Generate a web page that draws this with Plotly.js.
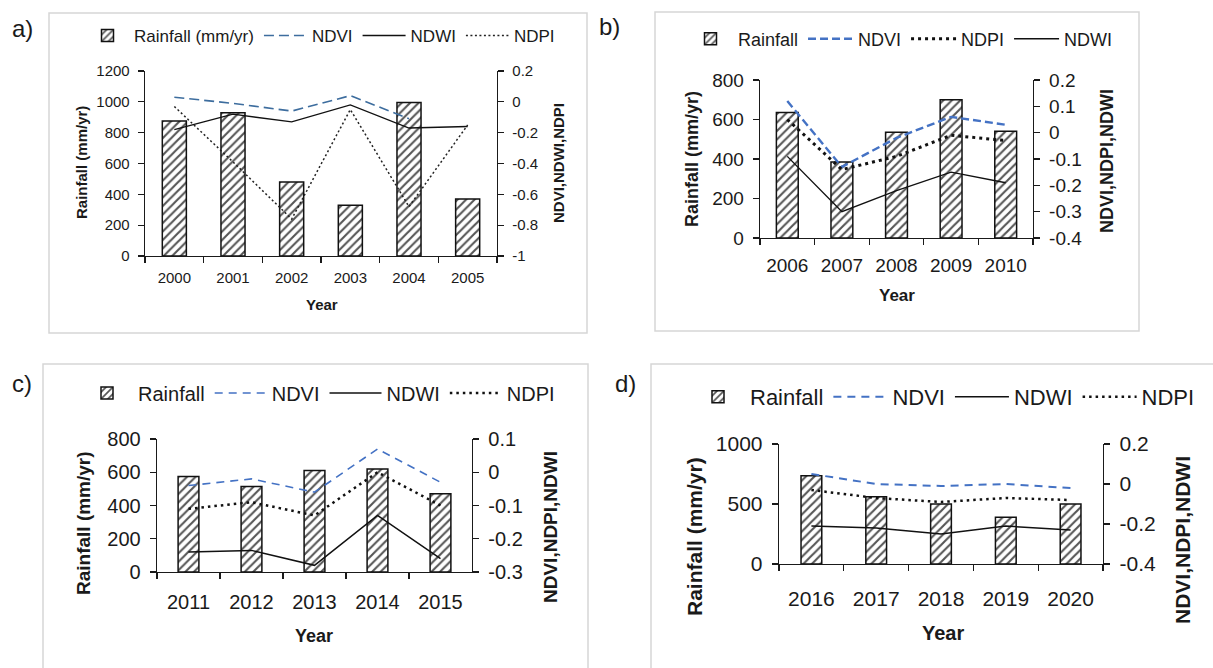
<!DOCTYPE html>
<html>
<head>
<meta charset="utf-8">
<script src="https://cdn.plot.ly/plotly-3.0.1.min.js"></script>
<style>html,body{margin:0;padding:0;background:#fff;}#chart{width:1213px;height:668px;}</style>
</head>
<body>
<div id="chart"></div>
<script>
// ---------------- data ----------------
const yearsA = ['2000','2001','2002','2003','2004','2005'];
const rainA  = [875, 930, 480, 330, 995, 370];
const ndviA  = [0.03, -0.01, -0.06, 0.04, -0.11, null];
const ndwiA  = [-0.18, -0.08, -0.13, -0.02, -0.17, -0.16];
const ndpiA  = [-0.03, -0.39, -0.76, -0.05, -0.68, -0.15];

const yearsB = ['2006','2007','2008','2009','2010'];
const rainB  = [635, 385, 535, 700, 540];
const ndviB  = [0.12, -0.13, -0.02, 0.06, 0.03];
const ndpiB  = [0.05, -0.14, -0.09, -0.01, -0.03];
const ndwiB  = [-0.09, -0.30, -0.22, -0.15, -0.19];

const yearsC = ['2011','2012','2013','2014','2015'];
const rainC  = [575, 515, 610, 620, 470];
const ndviC  = [-0.04, -0.02, -0.06, 0.07, -0.03];
const ndwiC  = [-0.24, -0.235, -0.28, -0.13, -0.26];
const ndpiC  = [-0.11, -0.09, -0.13, 0.0, -0.10];

const yearsD = ['2016','2017','2018','2019','2020'];
const rainD  = [735, 560, 500, 390, 500];
const ndviD  = [0.05, 0.0, -0.01, 0.0, -0.02];
const ndwiD  = [-0.21, -0.22, -0.25, -0.21, -0.23];
const ndpiD  = [-0.03, -0.07, -0.09, -0.07, -0.08];

// tick labels (right axes use ASCII hyphen like the original)
const rTickValsA = [0.2, 0, -0.2, -0.4, -0.6, -0.8, -1];
const rTickTextA = ['0.2', '0', '-0.2', '-0.4', '-0.6', '-0.8', '-1'];
const rTickValsB = [0.2, 0.1, 0, -0.1, -0.2, -0.3, -0.4];
const rTickTextB = ['0.2', '0.1', '0', '-0.1', '-0.2', '-0.3', '-0.4'];
const rTickValsC = [0.1, 0, -0.1, -0.2, -0.3];
const rTickTextC = ['0.1', '0', '-0.1', '-0.2', '-0.3'];
const rTickValsD = [0.2, 0, -0.2, -0.4];
const rTickTextD = ['0.2', '0', '-0.2', '-0.4'];

// ---------------- helpers ----------------
const W = 1213, H = 668;
const px = x => x / W;
const py = y => 1 - y / H;
const FONT = 'Liberation Sans, Arial, sans-serif';
const INK = '#1a1a1a';

function barTrace(x, y, name, xa, ya, lg, width) {
  return {type:'bar', x:x, y:y, name:name, xaxis:xa, yaxis:ya, legend:lg, width:width,
    marker:{color:'#ffffff', line:{color:'#111', width:1.5},
      pattern:{shape:'/', fgcolor:'#555', bgcolor:'#ffffff', size:6, solidity:0.35}},
    hoverinfo:'skip'};
}
function lineTrace(x, y, name, xa, ya, lg, color, dash, width) {
  return {type:'scatter', mode:'lines', x:x, y:y, name:name, xaxis:xa, yaxis:ya, legend:lg,
    line:{color:color, dash:dash, width:width}, connectgaps:false, hoverinfo:'skip'};
}

const traces = [
  barTrace(yearsA, rainA, 'Rainfall (mm/yr)', 'x', 'y', 'legend', 0.41),
  lineTrace(yearsA, ndviA, 'NDVI', 'x', 'y2', 'legend', '#3d6d9e', '10px,5px', 1.6),
  lineTrace(yearsA, ndwiA, 'NDWI', 'x', 'y2', 'legend', '#111', 'solid', 1.4),
  lineTrace(yearsA, ndpiA, 'NDPI', 'x', 'y2', 'legend', '#222', '2px,2.5px', 1.5),

  barTrace(yearsB, rainB, 'Rainfall', 'x2', 'y3', 'legend2', 0.40),
  lineTrace(yearsB, ndviB, 'NDVI', 'x2', 'y4', 'legend2', '#4472c4', '8px,4px', 2.4),
  lineTrace(yearsB, ndpiB, 'NDPI', 'x2', 'y4', 'legend2', '#111', '3px,4px', 3),
  lineTrace(yearsB, ndwiB, 'NDWI', 'x2', 'y4', 'legend2', '#111', 'solid', 1.4),

  barTrace(yearsC, rainC, 'Rainfall', 'x3', 'y5', 'legend3', 0.33),
  lineTrace(yearsC, ndviC, 'NDVI', 'x3', 'y6', 'legend3', '#4472c4', '8px,6px', 1.6),
  lineTrace(yearsC, ndwiC, 'NDWI', 'x3', 'y6', 'legend3', '#111', 'solid', 1.5),
  lineTrace(yearsC, ndpiC, 'NDPI', 'x3', 'y6', 'legend3', '#111', '2.5px,4px', 2.5),

  barTrace(yearsD, rainD, 'Rainfall', 'x4', 'y7', 'legend4', 0.32),
  lineTrace(yearsD, ndviD, 'NDVI', 'x4', 'y8', 'legend4', '#4472c4', '8px,6px', 2),
  lineTrace(yearsD, ndwiD, 'NDWI', 'x4', 'y8', 'legend4', '#111', 'solid', 1.5),
  lineTrace(yearsD, ndpiD, 'NDPI', 'x4', 'y8', 'legend4', '#111', '2.5px,4px', 2.5)
];

function xAxis(dom, anchor, fs, stand) {
  return {domain:dom, anchor:anchor, type:'category', showline:true, linecolor:INK, linewidth:1.3,
    ticks:'outside', tickson:'boundaries', ticklen:6, tickcolor:INK, tickwidth:1.3,
    showgrid:false, zeroline:false, fixedrange:true,
    tickfont:{family:FONT, size:fs, color:INK}, ticklabelstandoff:stand};
}
function yLeft(dom, anchor, range, dtick, fs) {
  return {domain:dom, anchor:anchor, range:range, dtick:dtick, tick0:0, showline:true, linecolor:INK,
    linewidth:1.3, ticks:'outside', ticklen:6, tickcolor:INK, tickwidth:1.3, showgrid:false,
    zeroline:false, fixedrange:true, tickfont:{family:FONT, size:fs, color:INK}, ticklabelstandoff:5};
}
function yRight(over, anchor, range, vals, text, fs) {
  return {overlaying:over, anchor:anchor, side:'right', range:range, tickmode:'array',
    tickvals:vals, ticktext:text, showline:true, linecolor:INK, linewidth:1.3, ticks:'outside',
    ticklen:6, tickcolor:INK, tickwidth:1.3, showgrid:false, zeroline:false, fixedrange:true,
    tickfont:{family:FONT, size:fs, color:INK}, ticklabelstandoff:5};
}
function legendBox(x, y, fs, iw) {
  return {orientation:'h', x:px(x), y:py(y), xanchor:'left', yanchor:'middle',
    font:{family:FONT, size:fs, color:INK}, bgcolor:'rgba(0,0,0,0)', itemwidth:iw,
    traceorder:'normal', tracegroupgap:0, itemclick:false, itemdoubleclick:false};
}
function ann(text, x, y, fs, bold, angle) {
  return {text: bold ? '<b>' + text + '</b>' : text, x:px(x), y:py(y), xref:'paper', yref:'paper',
    showarrow:false, xanchor:'center', yanchor:'middle', textangle:angle || 0,
    font:{family:FONT, size:fs, color:INK}};
}
function frame(x0, y0, x1, y1) {
  return {type:'rect', xref:'paper', yref:'paper', x0:px(x0), x1:px(x1), y0:py(y1), y1:py(y0),
    line:{color:'#d6d6d6', width:1.5}, fillcolor:'rgba(0,0,0,0)', layer:'below'};
}

const layout = {
  width:W, height:H, margin:{l:0, r:0, t:0, b:0}, paper_bgcolor:'#fff', plot_bgcolor:'rgba(0,0,0,0)',
  showlegend:true, barmode:'group',
  // panel a
  xaxis:  xAxis([px(145), px(497)], 'y', 15, 8),
  yaxis:  yLeft([py(256), py(71)], 'x', [0, 1200], 200, 15),
  yaxis2: yRight('y', 'x', [-1, 0.2], rTickValsA, rTickTextA, 15),
  // panel b
  xaxis2: xAxis([px(760), px(1033)], 'y3', 19, 10),
  yaxis3: yLeft([py(238), py(80)], 'x2', [0, 800], 200, 19),
  yaxis4: yRight('y3', 'x2', [-0.4, 0.2], rTickValsB, rTickTextB, 19),
  // panel c
  xaxis3: xAxis([px(157), px(472)], 'y5', 20, 12),
  yaxis5: yLeft([py(572), py(439)], 'x3', [0, 800], 200, 20),
  yaxis6: yRight('y5', 'x3', [-0.3, 0.1], rTickValsC, rTickTextC, 20),
  // panel d
  xaxis4: xAxis([px(779), px(1103)], 'y7', 21, 15),
  yaxis7: yLeft([py(564), py(444)], 'x4', [0, 1000], 500, 21),
  yaxis8: yRight('y7', 'x4', [-0.4, 0.2], rTickValsD, rTickTextD, 21),

  legend:  legendBox(81, 36, 17, 43),
  legend2: legendBox(683, 39, 18, 45),
  legend3: legendBox(76, 393, 20, 52),
  legend4: legendBox(686, 397, 22, 54),

  shapes: [
    frame(49, 13, 587, 333),
    frame(655, 12, 1139, 331),
    frame(43, 364, 588, 680),
    frame(651, 364, 1225, 680)
  ],
  annotations: [
    ann('a)', 22, 28, 24, false), ann('b)', 609, 26, 24, false),
    ann('c)', 22, 383, 24, false), ann('d)', 625, 383, 24, false),
    // panel a titles
    ann('Rainfall (mm/yr)', 81, 163, 15, true, -90),
    ann('NDVI,NDWI,NDPI', 558, 163, 15, true, -90),
    ann('Year', 322, 304, 15, true),
    // panel b titles
    ann('Rainfall (mm/yr)', 692, 159, 18, true, -90),
    ann('NDVI,NDPI,NDWI', 1107, 161, 18, true, -90),
    ann('Year', 897, 296, 17, true),
    // panel c titles
    ann('Rainfall (mm/yr)', 83, 523, 19, true, -90),
    ann('NDVI,NDPI,NDWI', 550, 527, 19, true, -90),
    ann('Year', 314, 636, 18, true),
    // panel d titles
    ann('Rainfall (mm/yr)', 694, 536, 21, true, -90),
    ann('NDVI,NDPI,NDWI', 1182, 540, 21, true, -90),
    ann('Year', 943, 633, 20, true)
  ]
};

Plotly.newPlot('chart', traces, layout, {staticPlot:true, displayModeBar:false});
</script>
</body>
</html>
